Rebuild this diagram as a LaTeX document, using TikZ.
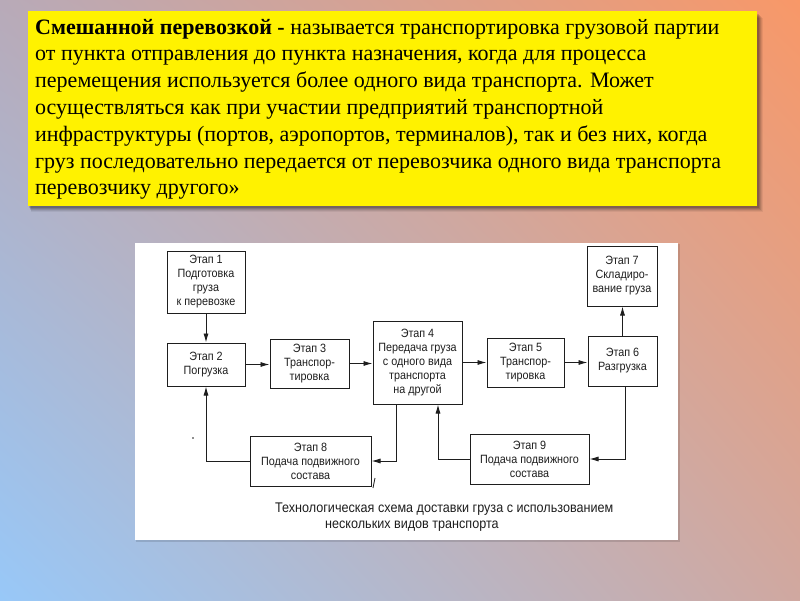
\documentclass[tikz,border=0pt]{standalone}
\usepackage{fontspec}
\setmainfont{Liberation Serif}
\newfontfamily\dfont[FakeStretch=0.9]{Liberation Sans}
\usetikzlibrary{arrows.meta,shadings}
\definecolor{bgtl}{HTML}{B8AAB8}
\definecolor{bgtr}{HTML}{F89868}
\definecolor{bgbl}{HTML}{98C8F8}
\definecolor{bgbr}{HTML}{D0A8A0}
\definecolor{ink}{HTML}{1E1E1E}
\tikzset{
  ytext/.style={anchor=base west, inner sep=0pt, font=\fontsize{22}{26}\selectfont},
  stage/.style={draw=ink, line width=1pt, fill=white, inner sep=1pt, align=center,
     text=ink, font=\dfont\fontsize{12}{14}\selectfont},
  arr/.style={draw=ink, line width=0.9pt, -{Latex[length=9pt,width=5pt]}},
  captext/.style={anchor=base west, inner sep=0pt, text=ink, font=\dfont\fontsize{14}{16}\selectfont}
}
\begin{document}
\begin{tikzpicture}[x=1pt,y=-1pt]
\useasboundingbox (0,0) rectangle (800,600);
\shade[upper left=bgtl, upper right=bgtr, lower left=bgbl, lower right=bgbr] (0,0) rectangle (800,600);
% shadow of yellow box
\foreach \o/\a in {6/0.06,5/0.08,4/0.1,3/0.12,2/0.14}{
  \fill[black, opacity=\a] (28+\o*0.5,12+\o) rectangle (757+\o,206+\o);
}
\fill[yellow] (28,11) rectangle (757,206);
\node[ytext] (t1) at (35,34) {\textbf{Смешанной перевозкой -} называется транспортировка грузовой партии};
\node[ytext] (t2) at (35,60.8) {от пункта отправления до пункта назначения, когда для процесса};
\node[ytext] (t3) at (35,87.6) {перемещения используется более одного вида транспорта. Может};
\node[ytext] (t4) at (35,114.4) {осуществляться как при участии предприятий транспортной};
\node[ytext] (t5) at (35,141.2) {инфраструктуры (портов, аэропортов, терминалов), так и без них, когда};
\node[ytext] (t6) at (35,168) {груз последовательно передается от перевозчика одного вида транспорта};
\node[ytext] (t7) at (35,194.8) {перевозчику другого»};
% panel
\fill[black, opacity=0.12] (136,244) rectangle (680,542);
\fill[white] (135,243) rectangle (678,540);
% stages
\node[stage, minimum width=78pt, minimum height=62pt] (b1) at (206,282) {Этап 1\\Подготовка\\груза\\к перевозке};
\node[stage, minimum width=78pt, minimum height=43pt] (b2) at (206,364.5) {Этап 2\\Погрузка};
\node[stage, minimum width=79pt, minimum height=49pt] (b3) at (309.5,363.5) {Этап 3\\Транспор-\\тировка};
\node[stage, minimum width=89pt, minimum height=83pt] (b4) at (417.5,362.5) {Этап 4\\Передача груза\\с одного вида\\транспорта\\на другой};
\node[stage, minimum width=77pt, minimum height=49pt] (b5) at (525.5,362.5) {Этап 5\\Транспор-\\тировка};
\node[stage, minimum width=69pt, minimum height=50pt] (b6) at (622.5,361) {Этап 6\\Разгрузка};
\node[stage, minimum width=70pt, minimum height=60pt] (b7) at (622,276) {Этап 7\\Складиро-\\вание груза};
\node[stage, minimum width=121pt, minimum height=50pt] (b8) at (310.5,461) {Этап 8\\Подача подвижного\\состава};
\node[stage, minimum width=119pt, minimum height=50pt] (b9) at (529.5,459) {Этап 9\\Подача подвижного\\состава};
% connectors
\draw[arr] (b1.south) -- (b2.north);
\draw[arr] (b2.east) -- (b2.east -| b3.west);
\draw[arr] (b3.east) -- (b3.east -| b4.west);
\draw[arr] (b4.east) -- (b4.east -| b5.west);
\draw[arr] (b5.east) -- (b5.east -| b6.west);
\draw[arr] (b6.north) -- (b6.north |- b7.south);
\draw[arr] ([xshift=-21.5pt]b4.south) |- (b8.east);
\draw[arr] (b8.west) -| (b2.south);
\draw[arr] ([xshift=3pt]b6.south) |- (b9.east);
\draw[arr] (b9.west) -| ([xshift=20.5pt]b4.south);
% scan marks
\draw[ink, line width=0.8pt] (375,478) -- (373,488);
\fill[ink] (193,438) circle (0.8);
% caption
\node[captext] (c1) at (275,512) {Технологическая схема доставки груза с использованием};
\node[captext] (c2) at (325,528) {нескольких видов транспорта};
\end{tikzpicture}
\end{document}
